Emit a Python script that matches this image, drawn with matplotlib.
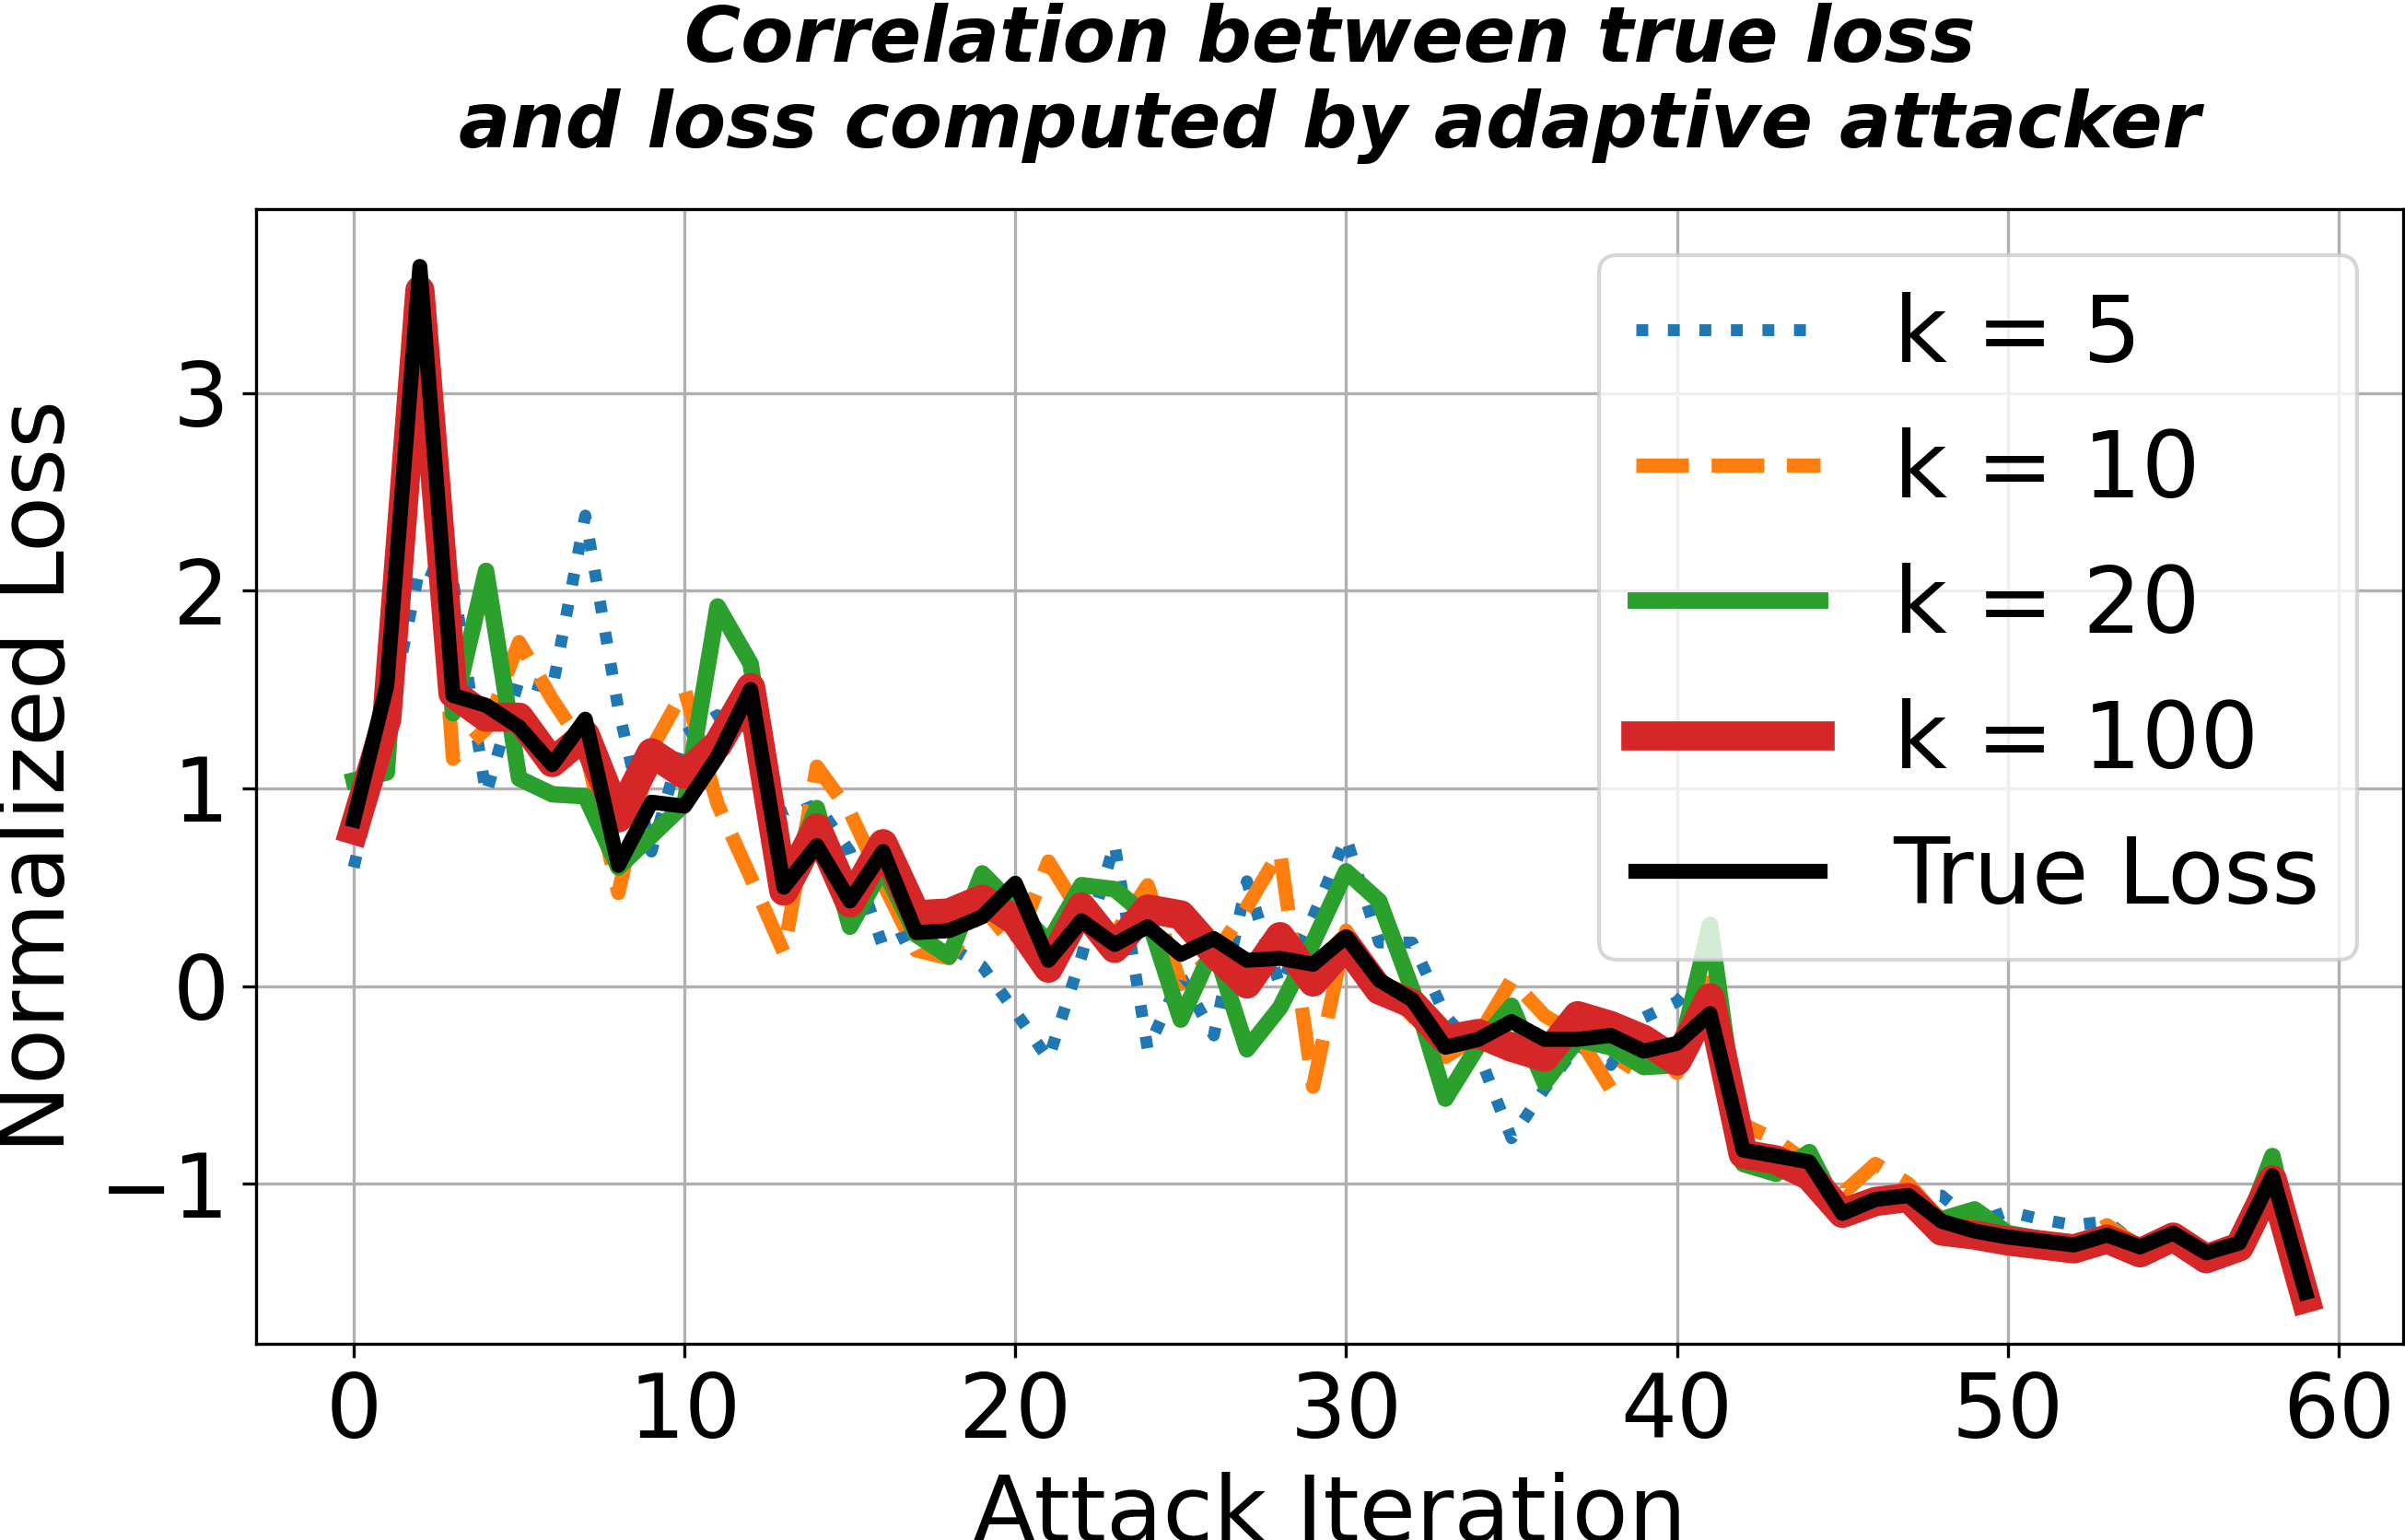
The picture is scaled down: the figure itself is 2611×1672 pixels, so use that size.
import numpy as np
import matplotlib
matplotlib.use("Agg")
import matplotlib.pyplot as plt

iters = np.arange(60)

k5 = [0.60, 1.30, 2.12, 2.05, 0.97, 1.55, 1.50, 2.38, 1.40, 0.68,
      1.27, 1.37, 1.30, 0.85, 0.92, 0.68, 0.20, 0.28, 0.20, 0.10,
      -0.13, -0.37, 0.15, 0.72, -0.32, 0.05, -0.25, 0.53, 0.00, 0.35,
      0.75, 0.22, 0.22, -0.15, -0.34, -0.77, -0.52, -0.30, -0.40, -0.16,
      -0.08, 0.10, -0.85, -0.95, -0.92, -1.15, -1.10, -1.05, -1.06, -1.20,
      -1.14, -1.18, -1.21, -1.19, -1.32, -1.28, -1.35, -1.28, -0.95, -1.55]

k10 = [0.88, 1.40, 3.40, 1.15, 1.30, 1.74, 1.45, 1.20, 0.47, 1.20,
       1.50, 0.92, 0.55, 0.17, 1.11, 0.88, 0.52, 0.18, 0.14, 0.40,
       0.20, 0.63, 0.36, 0.26, 0.51, 0.01, 0.15, 0.40, 0.68, -0.51,
       0.28, 0.00, -0.15, -0.36, -0.25, 0.03, -0.15, -0.25, -0.52, -0.26,
       -0.44, 0.02, -0.70, -0.78, -0.90, -1.05, -0.90, -1.00, -1.19, -1.22,
       -1.27, -1.29, -1.30, -1.21, -1.32, -1.27, -1.35, -1.30, -0.95, -1.55]

k20 = [1.04, 1.08, 3.45, 1.38, 2.10, 1.05, 0.97, 0.96, 0.60, 0.76,
       0.92, 1.92, 1.63, 0.50, 0.90, 0.30, 0.60, 0.26, 0.15, 0.57,
       0.40, 0.22, 0.51, 0.49, 0.35, -0.17, 0.20, -0.32, -0.11, 0.22,
       0.58, 0.43, -0.02, -0.57, -0.30, -0.10, -0.49, -0.27, -0.31, -0.41,
       -0.40, 0.31, -0.90, -0.95, -0.84, -1.17, -1.10, -1.08, -1.18, -1.13,
       -1.25, -1.28, -1.30, -1.26, -1.32, -1.25, -1.36, -1.30, -0.86, -1.58]

k100 = [0.79, 1.35, 3.52, 1.48, 1.36, 1.36, 1.13, 1.27, 0.85, 1.18,
        1.07, 1.22, 1.51, 0.48, 0.80, 0.42, 0.72, 0.36, 0.37, 0.44,
        0.33, 0.09, 0.40, 0.19, 0.39, 0.36, 0.17, 0.01, 0.25, 0.02,
        0.21, -0.02, -0.09, -0.27, -0.24, -0.31, -0.36, -0.15, -0.20, -0.27,
        -0.38, -0.06, -0.85, -0.88, -0.96, -1.15, -1.09, -1.07, -1.24, -1.26,
        -1.29, -1.31, -1.33, -1.28, -1.35, -1.27, -1.38, -1.32, -0.98, -1.58]

true_loss = [0.84, 1.52, 3.64, 1.47, 1.42, 1.31, 1.12, 1.35, 0.61, 0.93,
             0.91, 1.16, 1.50, 0.50, 0.71, 0.43, 0.68, 0.27, 0.28, 0.35,
             0.52, 0.13, 0.33, 0.21, 0.30, 0.16, 0.24, 0.13, 0.14, 0.11,
             0.25, 0.03, -0.07, -0.31, -0.27, -0.18, -0.27, -0.27, -0.25, -0.33,
             -0.29, -0.14, -0.83, -0.86, -0.89, -1.15, -1.08, -1.06, -1.19, -1.24,
             -1.27, -1.29, -1.31, -1.26, -1.32, -1.25, -1.35, -1.30, -0.96, -1.55]

fig = plt.figure(figsize=(2611 / 300, 1672 / 300), dpi=300)
ax = fig.add_axes([0.1065, 0.1274, 0.8927, 0.7368])

ax.plot(iters, k5, ':', color='tab:blue', lw=3.1, label='k = 5')
ax.plot(iters, k10, '--', color='tab:orange', lw=3.7, label='k = 10')
ax.plot(iters, k20, '-', color='tab:green', lw=4.3, label='k = 20')
ax.plot(iters, k100, '-', color='tab:red', lw=7.6, label='k = 100')
ax.plot(iters, true_loss, '-', color='black', lw=3.9, label='True Loss')

ax.set_ylim(-1.81, 3.93)
ax.grid(True)
ax.tick_params(labelsize=23)
ax.set_xlabel('Attack Iteration', fontsize=24)
ax.set_ylabel('Normalized Loss', fontsize=24)
ax.set_title('Correlation between true loss\nand loss computed by adaptive attacker',
             fontsize=20, fontweight='bold', fontstyle='italic', pad=16)
ax.legend(fontsize=24, loc='upper right')

fig.savefig('out.png', dpi=300)
